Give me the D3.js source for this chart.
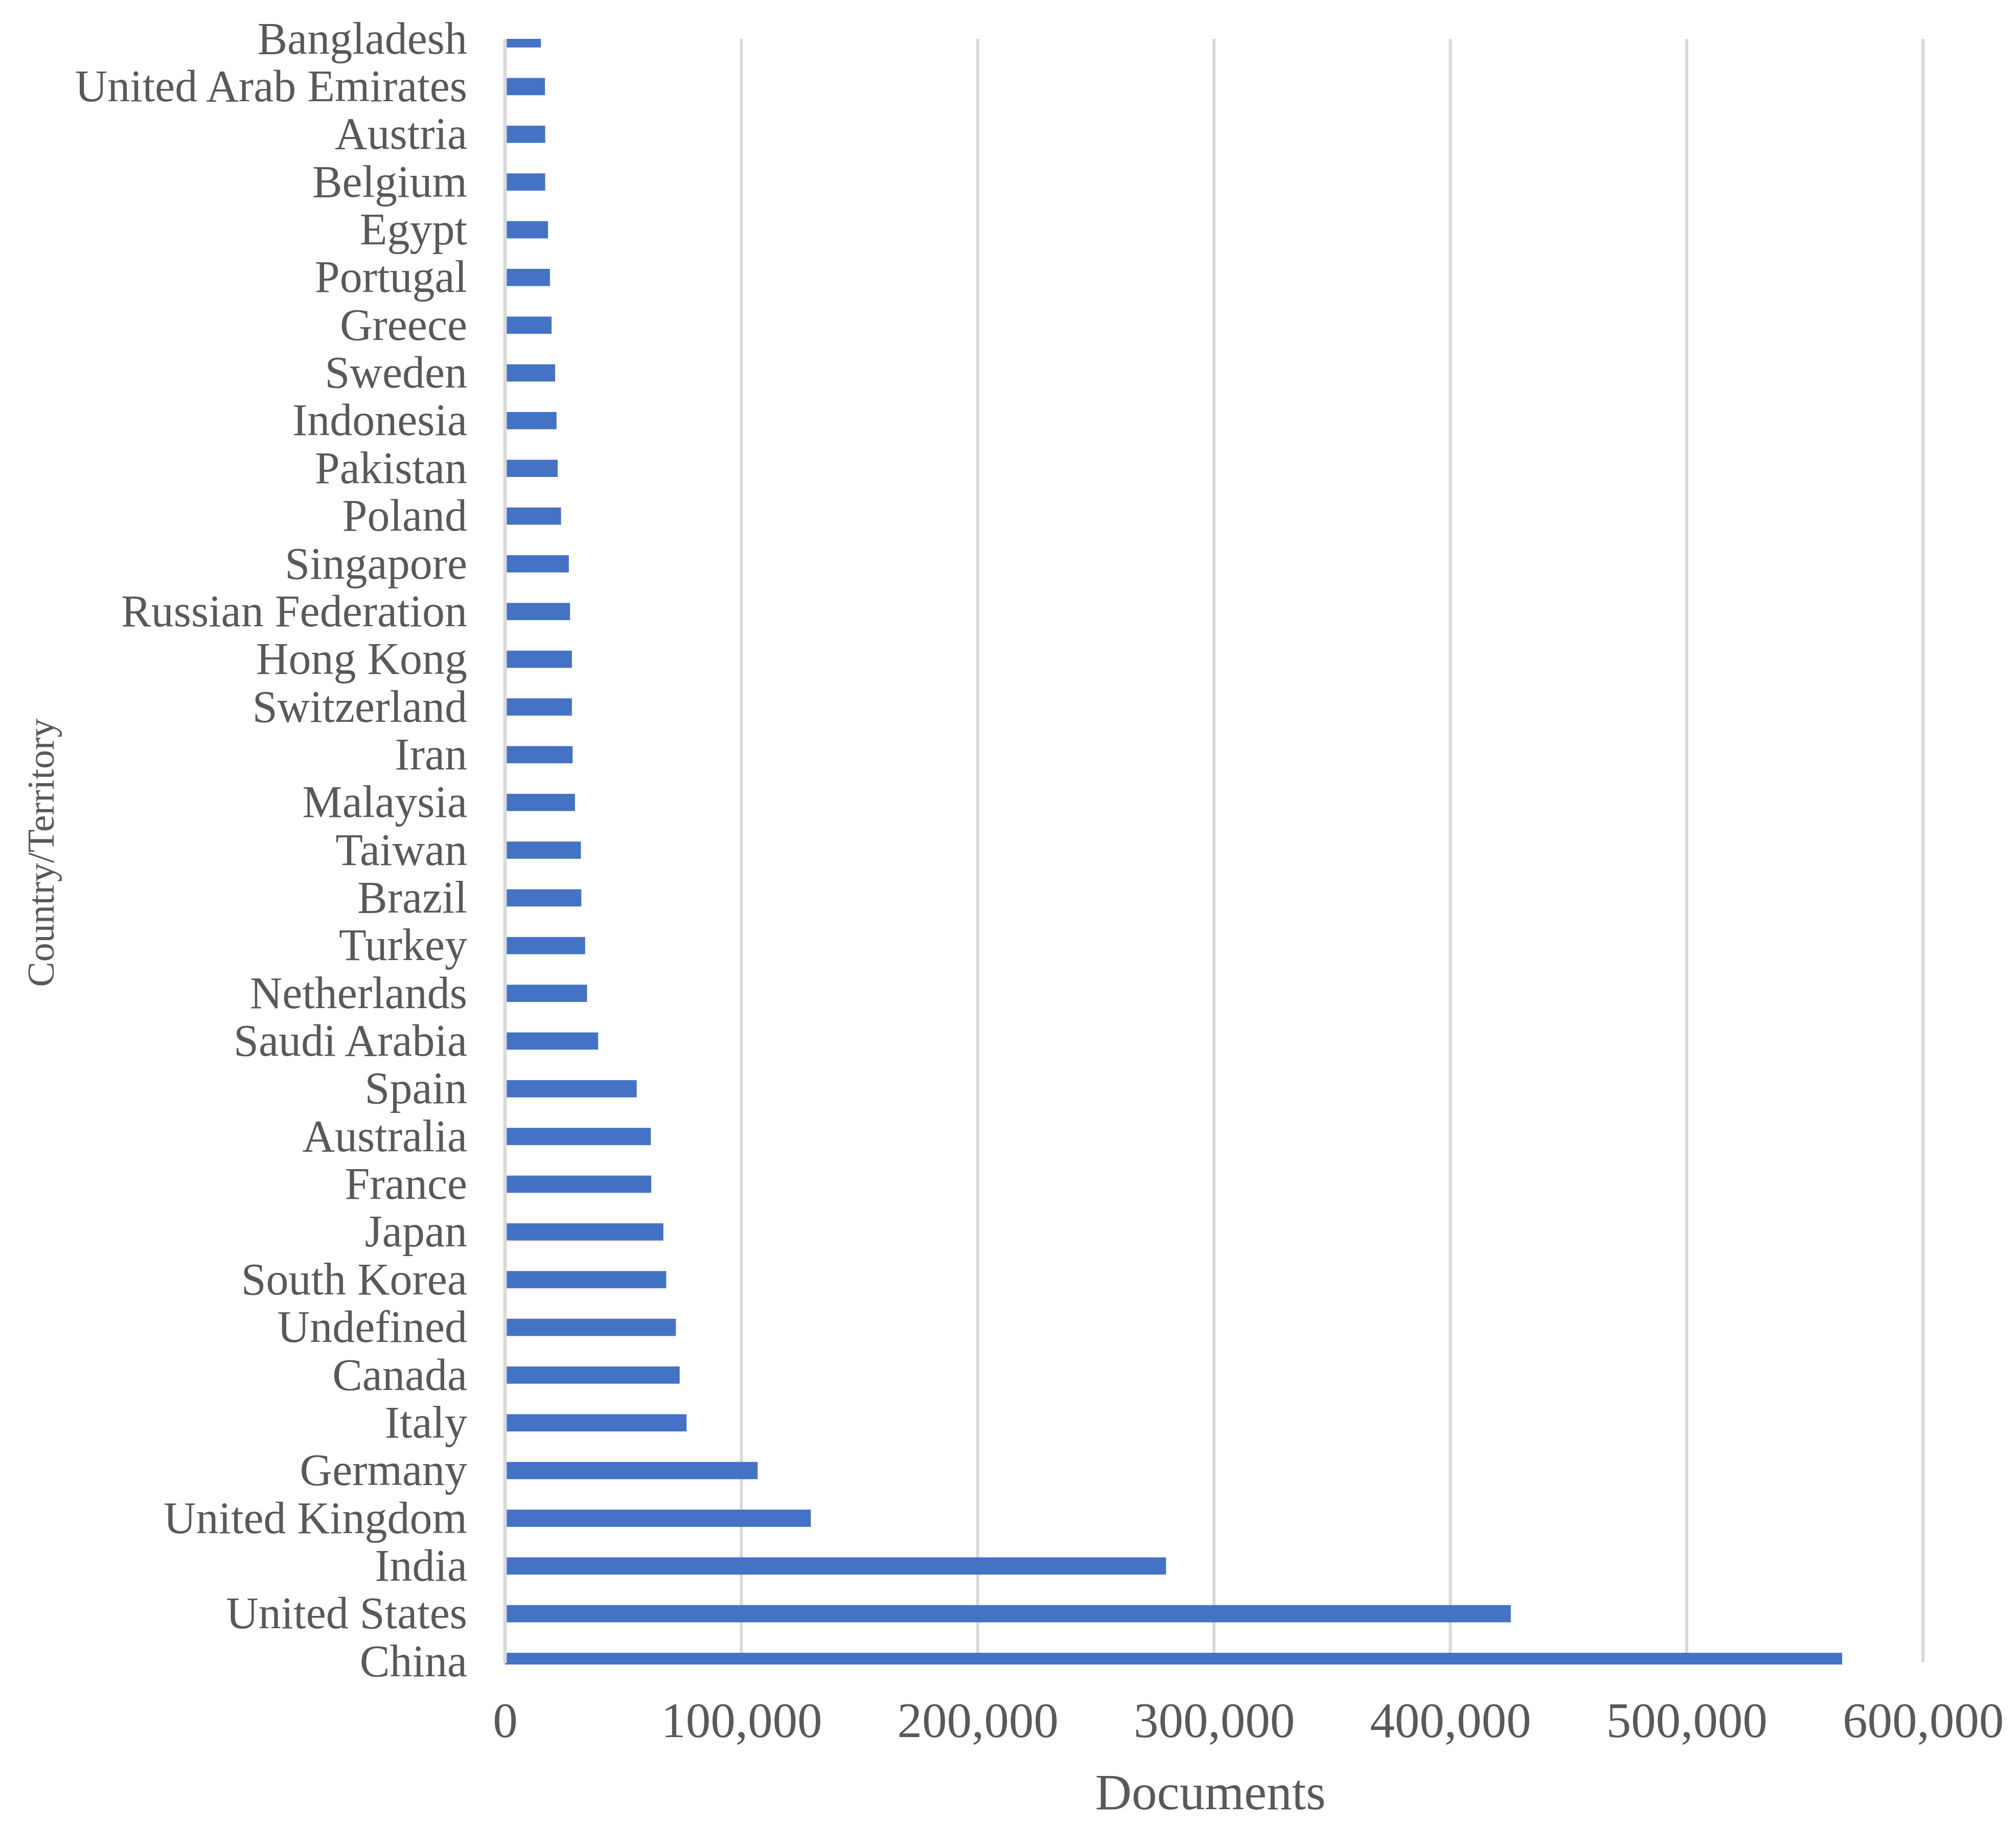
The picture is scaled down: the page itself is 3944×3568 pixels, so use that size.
<!DOCTYPE html>
<html>
<head>
<meta charset="utf-8">
<script src="https://cdn.jsdelivr.net/npm/d3@7"></script>
<style>
    body { margin: 0; background: #ffffff; }
    svg { display: block; }
</style>
</head>
<body>
<svg id="chart"></svg>
<script>
// Categories, top to bottom as drawn
const countries = [
    'Bangladesh', 'United Arab Emirates', 'Austria', 'Belgium', 'Egypt',
    'Portugal', 'Greece', 'Sweden', 'Indonesia', 'Pakistan', 'Poland',
    'Singapore', 'Russian Federation', 'Hong Kong', 'Switzerland', 'Iran',
    'Malaysia', 'Taiwan', 'Brazil', 'Turkey', 'Netherlands', 'Saudi Arabia',
    'Spain', 'Australia', 'France', 'Japan', 'South Korea', 'Undefined',
    'Canada', 'Italy', 'Germany', 'United Kingdom', 'India', 'United States',
    'China'
];

// Documents per country
const documents = [
    15200, 16900, 17000, 17000, 18200,
    19000, 19700, 21200, 21800, 22300, 23700,
    27000, 27500, 28300, 28300, 28600,
    29600, 32100, 32300, 33900, 34700, 39400,
    55700, 61700, 61900, 67000, 68200, 72300,
    73900, 76800, 106900, 129400, 279700, 425600,
    565800
];

// Tick labels on the value axis
const xTicks = [0, 100000, 200000, 300000, 400000, 500000, 600000];

const xTitle = 'Documents';
const yTitle = 'Country/Territory';

const width = 3944;
const height = 3568;
const margin = { top: 76, right: 182, bottom: 316, left: 988 };

const textColor = '#595959';
const gridColor = '#d9d9d9';
const barColor = '#4472c4';
const fontFamily = '"Liberation Serif", "Times New Roman", serif';

const svg = d3.select('#chart')
    .attr('width', width)
    .attr('height', height)
    .attr('viewBox', `0 0 ${width} ${height}`);

const plotBottom = height - margin.bottom;

// Scales
const x = d3.scaleLinear()
    .domain([0, 600000])
    .range([margin.left, width - margin.right]);

// Categories sit on the tick marks, so the end bars are cut by the plot edge
const y = d3.scalePoint()
    .domain(countries)
    .range([margin.top, plotBottom - 2])
    .padding(0);

const barHeight = 33.7;

// Clip to plot area
svg.append('defs').append('clipPath')
    .attr('id', 'plot-clip')
    .append('rect')
    .attr('x', margin.left - 10)
    .attr('y', margin.top)
    .attr('width', width - margin.left)
    .attr('height', plotBottom + 4 - margin.top);

// Vertical gridlines
svg.append('g')
    .selectAll('line')
    .data(xTicks.slice(1))
    .join('line')
    .attr('x1', (d) => x(d))
    .attr('x2', (d) => x(d))
    .attr('y1', margin.top)
    .attr('y2', plotBottom)
    .attr('stroke', gridColor)
    .attr('stroke-width', 6);

// Bars
const rows = countries.map((name, i) => ({ name, value: documents[i] }));

svg.append('g')
    .attr('clip-path', 'url(#plot-clip)')
    .selectAll('rect')
    .data(rows)
    .join('rect')
    .attr('x', x(0))
    .attr('y', (d) => y(d.name) - barHeight / 2)
    .attr('width', (d) => x(d.value) - x(0))
    .attr('height', barHeight)
    .attr('fill', barColor);

// Category axis
const yAxis = svg.append('g')
    .attr('transform', `translate(${margin.left},0)`)
    .call(d3.axisLeft(y).tickSize(0).tickPadding(74));

yAxis.select('.domain').remove();
yAxis.selectAll('text')
    .attr('fill', textColor)
    .style('font-family', fontFamily)
    .style('font-size', '88px');

// Axis line over the bar starts
svg.append('line')
    .attr('x1', x(0))
    .attr('x2', x(0))
    .attr('y1', margin.top)
    .attr('y2', plotBottom + 1)
    .attr('stroke', gridColor)
    .attr('stroke-width', 7);

// Value axis labels
const xAxis = svg.append('g')
    .attr('transform', `translate(0,${plotBottom})`)
    .call(d3.axisBottom(x)
        .tickValues(xTicks)
        .tickFormat(d3.format(','))
        .tickSize(0)
        .tickPadding(77));

xAxis.select('.domain').remove();
xAxis.selectAll('text')
    .attr('fill', textColor)
    .style('font-family', fontFamily)
    .style('font-size', '97px');

// Axis titles
svg.append('text')
    .attr('x', 2368)
    .attr('y', 3539)
    .attr('text-anchor', 'middle')
    .attr('fill', textColor)
    .style('font-family', fontFamily)
    .style('font-size', '99px')
    .text(xTitle);

svg.append('text')
    .attr('transform', 'translate(105,1668) rotate(-90)')
    .attr('text-anchor', 'middle')
    .attr('fill', textColor)
    .style('font-family', fontFamily)
    .style('font-size', '74px')
    .text(yTitle);
</script>
</body>
</html>
